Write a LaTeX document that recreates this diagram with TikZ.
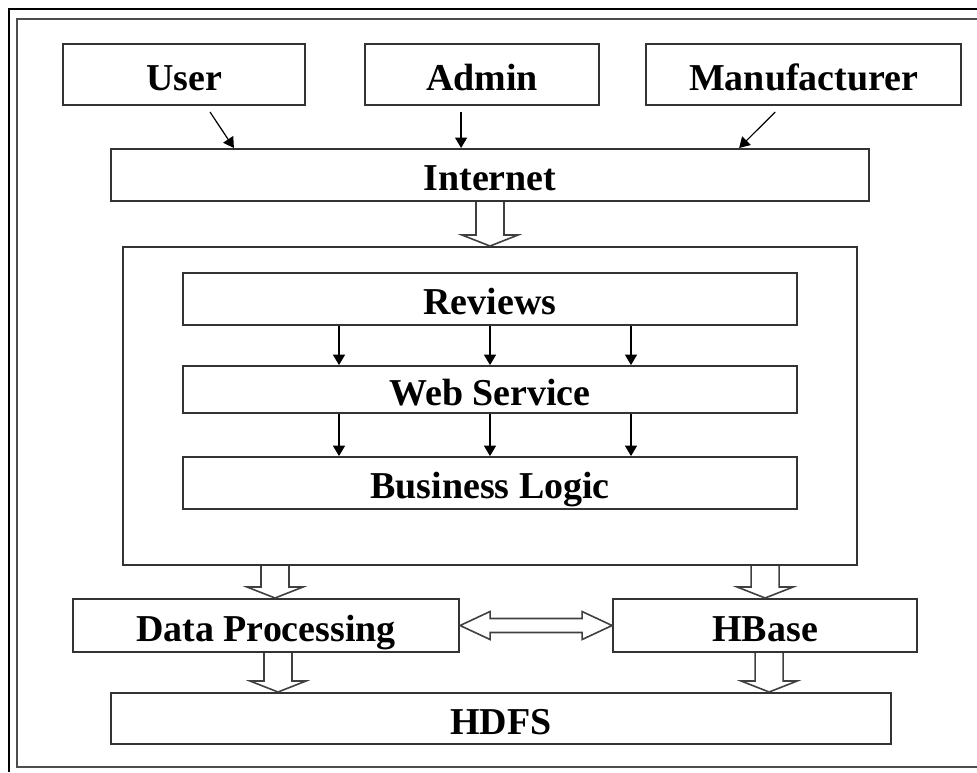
\documentclass[tikz,border=0pt]{standalone}
\usepackage{fontspec}
\setmainfont{Liberation Serif}
\usetikzlibrary{positioning,calc,arrows.meta}

\tikzset{
  layer/.style={draw=black!80, line width=0.05cm, inner sep=0pt,
    text height=0.78cm, text depth=0pt, font=\fontsize{27}{32}\selectfont\bfseries},
  feed/.style={-{Triangle[length=0.26cm,width=0.3cm]}, line width=0.03cm},
  fat/.style={draw=black!75, line width=0.04cm, line join=miter},
}

%% hollow block arrow going down from #1 to its tip #2
\newcommand{\blockdown}[2]{%
  \draw[fat] ($(#1)+(-14,0)$) -- ($(#2)+(-14,-11)$) -- ($(#2)+(-28,-11)$) -- (#2)
    -- ($(#2)+(28,-11)$) -- ($(#2)+(14,-11)$) -- ($(#1)+(14,0)$);}
%% hollow block arrow with tips at #1 (left) and #2 (right)
\newcommand{\blockboth}[2]{%
  \draw[fat] (#1) -- ($(#1)+(30,-14)$) -- ($(#1)+(30,-7)$) -- ($(#2)+(-30,-7)$)
    -- ($(#2)+(-30,-14)$) -- (#2) -- ($(#2)+(-30,14)$) -- ($(#2)+(-30,7)$)
    -- ($(#1)+(30,7)$) -- ($(#1)+(30,14)$) -- cycle;}

\begin{document}
\begin{tikzpicture}[x=0.025cm, y=-0.025cm]
\useasboundingbox (0,0) rectangle (977,772);
%% double frame, open to the right and bottom
\draw[line width=0.04cm] (9,772) -- (9,9) -- (977,9);
\draw[black!70, line width=0.05cm] (977,19) -- (17,19) -- (17,767) -- (977,767);

\node[layer, minimum width=6.05cm, minimum height=1.525cm] (user) at (184,74.5) {User};
\node[layer, minimum width=5.85cm, minimum height=1.525cm, right=1.45cm of user] (admin) {Admin};
\node[layer, minimum width=7.875cm, minimum height=1.525cm, right=1.125cm of admin] (maker) {Manufacturer};
\node[layer, minimum width=18.95cm, minimum height=1.3cm] (internet) at (490,175) {Internet};

%% application block
\node[draw=black!80, line width=0.05cm, minimum width=18.35cm, minimum height=7.95cm,
  below=1.1cm of internet] (core) {};
\node[layer, minimum width=15.325cm, minimum height=1.3cm, below=0.65cm of core.north] (reviews) {Reviews};
\node[layer, minimum width=15.325cm, minimum height=1.175cm, below=0.975cm of reviews] (websvc) {Web Service};
\node[layer, minimum width=15.325cm, minimum height=1.3cm, below=1.05cm of websvc] (logic) {Business Logic};

\node[layer, minimum width=9.65cm, minimum height=1.325cm] (proc) at (266,625.5) {Data Processing};
\node[layer, minimum width=7.6cm, minimum height=1.325cm, right=3.8cm of proc] (hbase) {HBase};
\node[layer, minimum width=19.5cm, minimum height=1.275cm] (hdfs) at (501,718.5) {HDFS};

%% clients to the internet
\draw[feed] ($(user.south)+(26,6)$) -- ($(internet.north west)+(124,0)$);
\draw[feed] ($(admin.south)+(-21,6)$) coordinate (adm) -- (adm |- internet.north);
\draw[feed] ($(maker.south)+(-28.5,6)$) -- ($(internet.north east)+(-131,0)$);

\draw[feed] ($(reviews.south)+(-151,0)$) -- ($(websvc.north)+(-151,0)$);
\draw[feed] (reviews.south) -- (websvc.north);
\draw[feed] ($(reviews.south)+(141,0)$) -- ($(websvc.north)+(141,0)$);
\draw[feed] ($(websvc.south)+(-151,0)$) -- ($(logic.north)+(-151,0)$);
\draw[feed] (websvc.south) -- (logic.north);
\draw[feed] ($(websvc.south)+(141,0)$) -- ($(logic.north)+(141,0)$);

%% block arrows
\coordinate (procin) at ($(proc.north)+(9,0)$);
\coordinate (procout) at ($(proc.south)+(12,0)$);
\coordinate (hbout) at ($(hbase.south)+(4,0)$);
\blockdown{internet.south}{core.north}
\blockdown{core.south -| procin}{procin}
\blockdown{core.south -| hbase.north}{hbase.north}
\blockdown{procout}{procout |- hdfs.north}
\blockdown{hbout}{hbout |- hdfs.north}
\blockboth{proc.east}{hbase.west}
\end{tikzpicture}
\end{document}
